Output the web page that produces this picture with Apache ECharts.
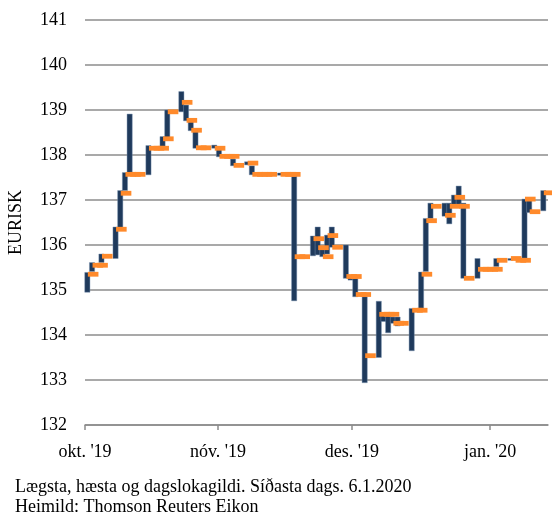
<!DOCTYPE html>
<html><head><meta charset="utf-8">
<script src="https://cdn.jsdelivr.net/npm/echarts@6/dist/echarts.min.js"></script>
<style>html,body{margin:0;padding:0;background:#fff}#c{width:552px;height:517px}</style>
</head><body><div id="c"></div>
<script>
const startDate = '2019-10-01';
const dates = [
 '2019-10-01','2019-10-02','2019-10-03','2019-10-04','2019-10-07','2019-10-08','2019-10-09','2019-10-10','2019-10-11',
 '2019-10-14','2019-10-15','2019-10-16','2019-10-17','2019-10-18','2019-10-21','2019-10-22','2019-10-23','2019-10-24','2019-10-25',
 '2019-10-28','2019-10-29','2019-10-30','2019-10-31','2019-11-01','2019-11-04','2019-11-05','2019-11-06','2019-11-07','2019-11-08',
 '2019-11-11','2019-11-12','2019-11-13','2019-11-14','2019-11-15','2019-11-18','2019-11-19','2019-11-20','2019-11-21','2019-11-22',
 '2019-11-25','2019-11-26','2019-11-27','2019-11-28','2019-11-29','2019-12-02','2019-12-03','2019-12-04','2019-12-05','2019-12-06',
 '2019-12-09','2019-12-10','2019-12-11','2019-12-12','2019-12-13','2019-12-16','2019-12-17','2019-12-18','2019-12-19','2019-12-20',
 '2019-12-23','2019-12-24','2019-12-25','2019-12-26','2019-12-27','2019-12-30','2019-12-31','2020-01-01','2020-01-02','2020-01-03',
 '2020-01-06'
];
const highs = [
 135.39,135.61,135.55,135.80,136.40,137.21,137.61,138.91,137.57,
 138.21,138.15,138.15,138.41,139.00,139.41,139.11,138.78,138.56,138.16,
 138.22,138.18,137.97,137.97,137.91,137.85,137.76,137.57,137.57,137.57,
 137.60,137.57,137.57,137.53,135.74,136.20,136.40,135.98,136.22,136.40,
 136.00,135.30,135.26,134.90,134.85,134.75,134.46,134.46,134.40,134.40,
 134.59,134.55,135.40,136.59,136.93,136.93,136.93,137.11,137.31,136.93,
 135.70,135.46,135.46,135.46,135.70,135.70,135.66,135.66,137.02,137.02,
 137.21
];
const lows = [
 134.95,135.41,135.55,135.61,135.70,136.39,137.21,137.55,137.57,
 137.56,138.15,138.15,138.19,138.39,138.96,138.76,138.54,138.15,138.16,
 138.15,137.96,137.97,137.97,137.76,137.78,137.56,137.57,137.57,137.57,
 137.55,137.57,137.57,134.76,135.74,135.76,135.78,135.74,135.80,135.95,
 135.26,135.22,134.85,134.90,132.94,133.50,134.30,134.05,134.26,134.20,
 133.65,134.55,134.59,135.41,136.59,136.64,136.47,136.89,136.86,135.26,
 135.26,135.46,135.46,135.46,135.52,135.66,135.66,135.66,135.65,136.72,
 136.76
];
const closes = [
 135.35,135.55,135.55,135.75,136.35,137.15,137.57,137.57,137.57,
 138.15,138.15,138.15,138.36,138.96,139.17,138.77,138.55,138.16,138.16,
 138.15,137.97,137.97,137.97,137.77,137.82,137.57,137.57,137.57,137.57,
 137.57,137.57,137.57,135.74,135.74,136.14,135.94,135.74,136.21,135.95,
 135.30,135.30,134.90,134.90,133.54,134.46,134.46,134.46,134.26,134.26,
 134.55,134.55,135.35,136.54,136.86,136.66,136.86,137.06,136.86,135.26,
 135.46,135.46,135.46,135.46,135.66,135.70,135.66,135.66,137.02,136.74,
 137.16
];
const tickDays = [-0.5, 27.8, 56.3, 85.7];
const tickLabels = ["okt. '19", "nóv. '19", "des. '19", "jan. '20"];
const yMin = 132, yMax = 141, yStep = 1;
const yName = 'EURISK';
const footLines = ['Lægsta, hæsta og dagslokagildi. Síðasta dags. 6.1.2020', 'Heimild: Thomson Reuters Eikon'];

const NAVY = '#1F3A5C', ORANGE = '#FF8A2B', GRID = '#8C8C8C';
const FONT = '"Liberation Serif", "DejaVu Serif", serif';
const t0 = Date.parse(startDate);
const dayIdx = s => Math.round((Date.parse(s) - t0) / 864e5);
const rangeData = dates.map((d, i) => [dayIdx(d), lows[i], highs[i]]);
const closeData = dates.map((d, i) => [dayIdx(d), closes[i]]);

const chart = echarts.init(document.getElementById('c'), null, {renderer: 'canvas'});
chart.setOption({
  animation: false,
  backgroundColor: '#fff',
  grid: {left: 85, top: 20, right: 4, bottom: 92, containLabel: false, outerBoundsMode: 'none'},
  xAxis: {
    type: 'value', min: -0.5, max: 98,
    splitLine: {show: false},
    axisLine: {show: true, lineStyle: {color: GRID, width: 1.5}},
    axisTick: {show: true, length: 5, lineStyle: {color: GRID, width: 1.5}, customValues: tickDays},
    axisLabel: {
      customValues: tickDays, margin: 18, color: '#000', fontFamily: FONT, fontSize: 18,
      formatter: v => { let k = 0, b = 1e9; tickDays.forEach((t, i) => { if (Math.abs(t - v) < b) { b = Math.abs(t - v); k = i; } }); return tickLabels[k]; }
    }
  },
  yAxis: {
    type: 'value', min: yMin, max: yMax, interval: yStep,
    name: yName, nameLocation: 'middle', nameRotate: 90, nameGap: 60,
    nameTextStyle: {color: '#000', fontFamily: FONT, fontSize: 18},
    axisLine: {show: false}, axisTick: {show: false},
    axisLabel: {color: '#000', fontFamily: FONT, fontSize: 18, margin: 18},
    splitLine: {show: true, lineStyle: {color: GRID, width: 1.5}}
  },
  series: [
    {
      type: 'custom', clip: false, data: rangeData,
      renderItem: (params, api) => {
        const x = api.value(0), lo = api.coord([x, api.value(1)]), hi = api.coord([x, api.value(2)]);
        if (Math.abs(lo[1] - hi[1]) < 0.5) return null;
        return {type: 'rect', shape: {x: lo[0] - 2.6, y: hi[1], width: 5.2, height: lo[1] - hi[1]},
          style: {fill: NAVY, stroke: 'rgba(120,145,175,0.55)', lineWidth: 0.8}};
      }
    },
    {
      type: 'custom', clip: false, data: closeData,
      renderItem: (params, api) => {
        const c = api.coord([api.value(0), api.value(1)]);
        return {type: 'rect', shape: {x: c[0] + 0.5, y: c[1] - 2.4, width: 10.6, height: 4.8}, style: {fill: ORANGE}};
      }
    }
  ],
  graphic: footLines.map((t, i) => ({
    type: 'text', left: 15, top: 478 + i * 20,
    style: {text: t, fill: '#000', font: '18px ' + FONT}
  }))
});
</script>
</body></html>
